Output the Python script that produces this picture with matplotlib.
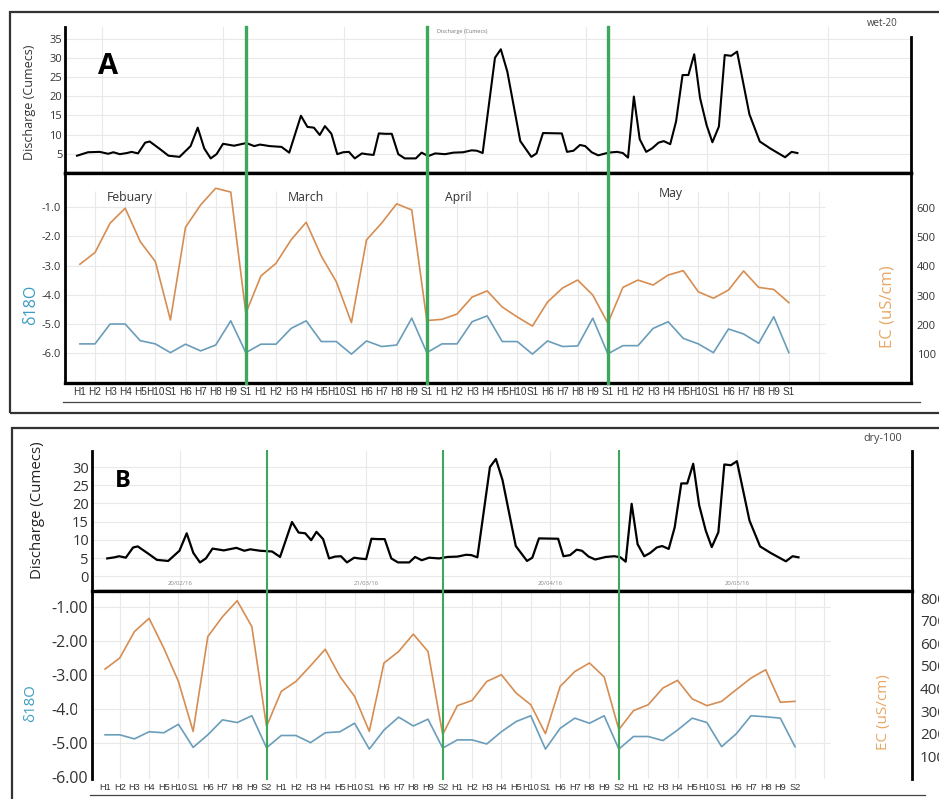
import numpy as np
import matplotlib
matplotlib.use("Agg")
import matplotlib.pyplot as plt
from matplotlib.lines import Line2D
from matplotlib.patches import Rectangle

plt.rcParams['font.family'] = ['Open Sans', 'DejaVu Sans']

# discharge record (day number, cumecs) - same record in both panels
dis_day = [0, 1.7, 3.5, 4.8, 5.6, 6.6, 7.7, 8.4, 9.4, 10.5,
           11.2, 12.8, 14.1, 15.8, 17.5, 18.6, 19.6, 20.6, 21.5, 22.5,
           24.2, 26.1, 27.3, 28.2, 29.7, 31.5, 32.7, 34.5, 35.5, 36.5,
           37.4, 38.2, 39.2, 40.1, 41.0, 41.9, 42.8, 43.9, 44.6, 45.7,
           46.5, 47.5, 48.5, 49.5, 50.5, 52.2, 53.1, 54.1, 55.2, 56.7,
           58.0, 59.5, 60.8, 61.6, 62.5, 64.4, 65.3, 66.3, 68.3, 70.0,
           70.8, 71.8, 74.7, 75.5, 76.5, 77.5, 78.3, 79.3, 80.3, 81.9,
           83.2, 84.1, 84.9, 85.8, 86.7, 87.7, 88.6, 89.6, 90.4, 91.4,
           92.3, 93.3, 94.2, 95.1, 96.0, 97.0, 97.9, 98.9, 99.8, 100.8,
           101.7, 103.6, 105.2, 106.8, 108.1, 109.1, 110.1, 111.0]
dis_q = [4.5, 5.4, 5.5, 5.0, 5.4, 4.9, 5.2, 5.5, 5.1, 7.9,
         8.2, 6.2, 4.5, 4.2, 7.0, 11.8, 6.4, 3.8, 4.9, 7.6,
         7.1, 7.8, 7.0, 7.4, 7.0, 6.8, 5.3, 14.9, 12.0, 11.8,
         9.9, 12.2, 10.2, 4.9, 5.4, 5.5, 3.8, 5.1, 4.9, 4.7,
         10.3, 10.2, 10.2, 4.9, 3.8, 3.8, 5.3, 4.4, 5.1, 4.9,
         5.3, 5.4, 5.9, 5.8, 5.2, 30.0, 32.2, 26.4, 8.3, 4.2,
         5.1, 10.4, 10.3, 5.5, 5.8, 7.3, 7.0, 5.4, 4.6, 5.3,
         5.5, 5.2, 4.0, 19.9, 8.8, 5.5, 6.4, 7.9, 8.3, 7.5,
         13.4, 25.5, 25.5, 30.9, 19.5, 12.5, 8.0, 12.1, 30.7, 30.5,
         31.6, 15.3, 8.2, 6.4, 5.1, 4.1, 5.5, 5.2]
b_first_day = 6.5   # panel B record starts a bit later

b_dates = ['20/02/16', '21/03/16', '20/04/16', '20/05/16']
b_date_day = [17.6, 45.7, 73.5, 101.7]

# sampling codes, 12 per month
months = ['Febuary', 'March', 'April', 'May']
codes_a = ['H1', 'H2', 'H3', 'H4', 'H5', 'H10', 'S1', 'H6', 'H7', 'H8', 'H9', 'S1'] * 4
codes_b = ['H1', 'H2', 'H3', 'H4', 'H5', 'H10', 'S1', 'H6', 'H7', 'H8', 'H9', 'S2'] * 4

# panel A (wet-20)
a_ec = [407, 447, 547, 598, 484, 416, 217, 533, 609, 666, 653, 240,
        367, 410, 490, 550, 435, 347, 208, 490, 547, 613, 592, 215,
        219, 237, 295, 316, 261, 227, 196, 278, 326, 353, 302, 206,
        328, 353, 336, 370, 385, 313, 291, 319, 384, 328, 321, 276]
a_d18o = [-5.68, -5.68, -5.00, -5.00, -5.57, -5.68, -5.98, -5.69, -5.92, -5.72, -4.89, -5.98,
          -5.69, -5.69, -5.15, -4.89, -5.60, -5.60, -6.03, -5.58, -5.77, -5.72, -4.80, -5.98,
          -5.68, -5.68, -4.92, -4.72, -5.60, -5.60, -6.03, -5.58, -5.77, -5.75, -4.80, -6.02,
          -5.74, -5.74, -5.15, -4.92, -5.49, -5.68, -5.98, -5.17, -5.34, -5.66, -4.75, -5.98]

# panel B (dry-100)
b_ec = [486, 535, 652, 711, 579, 431, 210, 630, 718, 789, 674, 232,
        387, 431, 501, 574, 453, 365, 210, 513, 564, 641, 564, 196,
        324, 347, 431, 461, 380, 328, 200, 409, 475, 513, 451, 218,
        302, 328, 402, 436, 354, 324, 343, 395, 446, 483, 339, 343]
b_d18o = [-4.77, -4.77, -4.89, -4.68, -4.71, -4.46, -5.14, -4.77, -4.33, -4.41, -4.21, -5.15,
          -4.79, -4.79, -5.00, -4.71, -4.68, -4.43, -5.19, -4.63, -4.25, -4.51, -4.31, -5.16,
          -4.92, -4.92, -5.04, -4.68, -4.38, -4.21, -5.19, -4.58, -4.28, -4.43, -4.21, -5.19,
          -4.82, -4.82, -4.94, -4.63, -4.28, -4.41, -5.12, -4.74, -4.21, -4.24, -4.28, -5.12]

W, H = 939, 799
ORANGE = '#d68d52'
BLUE = '#6a9dba'
GREEN = '#3fa75c'
GRID = '#e9e9e9'
narrow = ['Liberation Sans Narrow', 'Liberation Sans']

fig = plt.figure(figsize=(W / 100, H / 100), dpi=100)


def px_axes(x0, y0, x1, y1):
    return fig.add_axes([x0 / W, 1 - y1 / H, (x1 - x0) / W, (y1 - y0) / H])


def fig_text(x, y, s, **kw):
    fig.text(x / W, 1 - y / H, s, **kw)


def fig_hline(y, x0, x1, lw=1.0, color='#444444'):
    fig.add_artist(Line2D([x0 / W, x1 / W], [1 - y / H, 1 - y / H], lw=lw, color=color,
                          transform=fig.transFigure))


# outer frames
fig.add_artist(Rectangle((10 / W, 1 - 413 / H), 940 / W, 401 / H, fill=False, lw=1.6,
                         ec='#333333', transform=fig.transFigure))
fig.add_artist(Rectangle((12 / W, 1 - 810 / H), 940 / W, 382 / H, fill=False, lw=1.6,
                         ec='#333333', transform=fig.transFigure))
fig_hline(402, 63, 920, lw=0.9)
fig_hline(795, 90, 925, lw=0.9)

idx = np.arange(len(a_ec))
day = np.array(dis_day)
q = np.array(dis_q)


def discharge_axes(ax, xlim, ylim, ticks, tsize):
    ax.set_xlim(*xlim)
    ax.set_ylim(*ylim)
    ax.set_yticks(ticks)
    ax.set_yticklabels([str(t) for t in ticks], fontsize=tsize, color='#333333')
    ax.tick_params(length=0, pad=2)
    ax.spines['top'].set_visible(False)
    ax.spines['bottom'].set_linewidth(2.4)
    ax.spines['left'].set_linewidth(2.0)
    ax.spines['right'].set_linewidth(2.0)
    ax.grid(True, color=GRID, lw=0.8)
    ax.set_axisbelow(True)


def iso_axes(ax, axr, d18o, ec, codes, xlim, ylim, ylim_r, yt_fmt, rt, lsize, rsize, csize, gtop):
    axr.plot(idx, ec, color=ORANGE, lw=1.2, zorder=3)
    ax.plot(idx, d18o, color=BLUE, lw=1.2, zorder=3)
    ax.set_xlim(*xlim)
    axr.set_xlim(*xlim)
    ax.set_ylim(*ylim)
    axr.set_ylim(*ylim_r)
    yt = [-1, -2, -3, -4, -5, -6]
    ax.set_yticks(yt)
    ax.set_yticklabels([yt_fmt % v for v in yt], fontsize=lsize, color='#333333')
    axr.set_yticks(rt)
    axr.set_yticklabels([str(v) for v in rt], fontsize=rsize, color='#333333')
    ax.set_xticks(idx)
    ax.set_xticklabels(codes, fontsize=csize, color='#333333', family=narrow)
    ax.tick_params(length=0, pad=3)
    axr.tick_params(length=0, pad=4)
    ax.hlines(yt[:5], xlim[0], 49.4, color=GRID, lw=0.8, zorder=0)
    ax.vlines(np.arange(1, 50, 2), ylim[0], gtop, color=GRID, lw=0.8, zorder=0)
    for s in ['top', 'bottom']:
        ax.spines[s].set_linewidth(2.4)
    ax.spines['left'].set_linewidth(2.0)
    ax.spines['right'].set_visible(False)
    for s in ['top', 'bottom', 'left']:
        axr.spines[s].set_visible(False)
    axr.spines['right'].set_linewidth(2.0)


# ---------------- panel A ----------------
axA1 = px_axes(65, 27, 911, 173)
axA1.plot(day, q, color='black', lw=1.5)
discharge_axes(axA1, (-1.85, 128.5), (0, 38), [5, 10, 15, 20, 25, 30, 35], 8)
axA1.set_xticks(np.arange(3.85, 128, 18.64))
axA1.set_xticklabels([])
axA1.spines['right'].set_bounds(0, 35.4)

axA2 = px_axes(65, 173, 911, 383)
axA2r = axA2.twinx()
iso_axes(axA2, axA2r, a_d18o, a_ec, codes_a, (-0.99, 55.1), (-7.02, 0.175), (2, 718),
         '%.1f', [100, 200, 300, 400, 500, 600], 8, 8, 7.2, -0.45)
axA2.hlines([-6], -0.99, 49.4, color=GRID, lw=0.8, zorder=0)
for m in [11, 23, 35]:
    axA2r.axvline(m, 0, 1.695, color=GREEN, lw=2.4, clip_on=False, zorder=5)
for name, xm, ym in zip(months, [1.8, 13.8, 24.2, 38.4], [-0.68, -0.68, -0.68, -0.54]):
    axA2.text(xm, ym, name, fontsize=8.8, color='#333333', ha='left', va='center')

fig_text(98, 66, 'A', fontsize=21, fontweight='bold', ha='left', va='center')
fig_text(30, 102, 'Discharge (Cumecs)', fontsize=9, rotation=90, ha='center', va='center',
         color='#333333')
fig_text(437, 31, 'Discharge (Cumecs)', fontsize=4, color='#777777', ha='left', va='center')
fig_text(867, 24, 'wet-20', fontsize=7, color='#444444', ha='left', va='center')
fig_text(31, 305, 'δ18O', fontsize=11.5, rotation=90, ha='center', va='center', color='#3d9cc4')
fig_text(888, 307, 'EC (uS/cm)', fontsize=12, rotation=90, ha='center', va='center',
         color='#e8a766')

# ---------------- panel B ----------------
axB1 = px_axes(91.7, 451, 911.7, 591)
keep = day >= b_first_day
axB1.plot(day[keep], q[keep], color='black', lw=1.6)
discharge_axes(axB1, (4.25, 128.1), (-4.05, 34.4), [0, 5, 10, 15, 20, 25, 30], 10.5)
axB1.set_xticks(b_date_day)
axB1.set_xticklabels([])
axB1.spines['bottom'].set_bounds(5.2, 127.5)
for d, lab in zip(b_date_day, b_dates):
    axB1.text(d, -1.9, lab, fontsize=4.3, color='#888888', ha='center', va='center')

axB2 = px_axes(91.7, 591, 911.7, 779)
axB2r = axB2.twinx()
iso_axes(axB2, axB2r, b_d18o, b_ec, codes_b, (-0.91, 54.95), (-6.07, -0.54), (-1, 832),
         '%.2f', [100, 200, 300, 400, 500, 600, 700, 800], 11.5, 11, 6.6, -0.54)
axB2.spines['bottom'].set_visible(False)
axB2r.tick_params(pad=6)
for m in [11, 23, 35]:
    axB2r.axvline(m, 0, 1.745, color=GREEN, lw=1.5, clip_on=False, zorder=5)

fig_text(115, 481, 'B', fontsize=17, fontweight='bold', ha='left', va='center')
fig_text(38, 510, 'Discharge (Cumecs)', fontsize=10.8, rotation=90, ha='center', va='center',
         color='#222222')
fig_text(863, 438, 'dry-100', fontsize=7.8, color='#444444', ha='left', va='center')
fig_text(31, 703, 'δ18O', fontsize=10.8, rotation=90, ha='center', va='center', color='#3d9cc4')
fig_text(883, 712, 'EC (uS/cm)', fontsize=11, rotation=90, ha='center', va='center',
         color='#e8a766')
# patch hiding the end of the -4.00 label, as in the pasted original
fig.add_artist(Rectangle((77 / W, 1 - 716 / H), 10 / W, 15 / H, fc='white', ec='none',
                         transform=fig.transFigure, zorder=10))

fig.savefig('out.png', dpi=100)
